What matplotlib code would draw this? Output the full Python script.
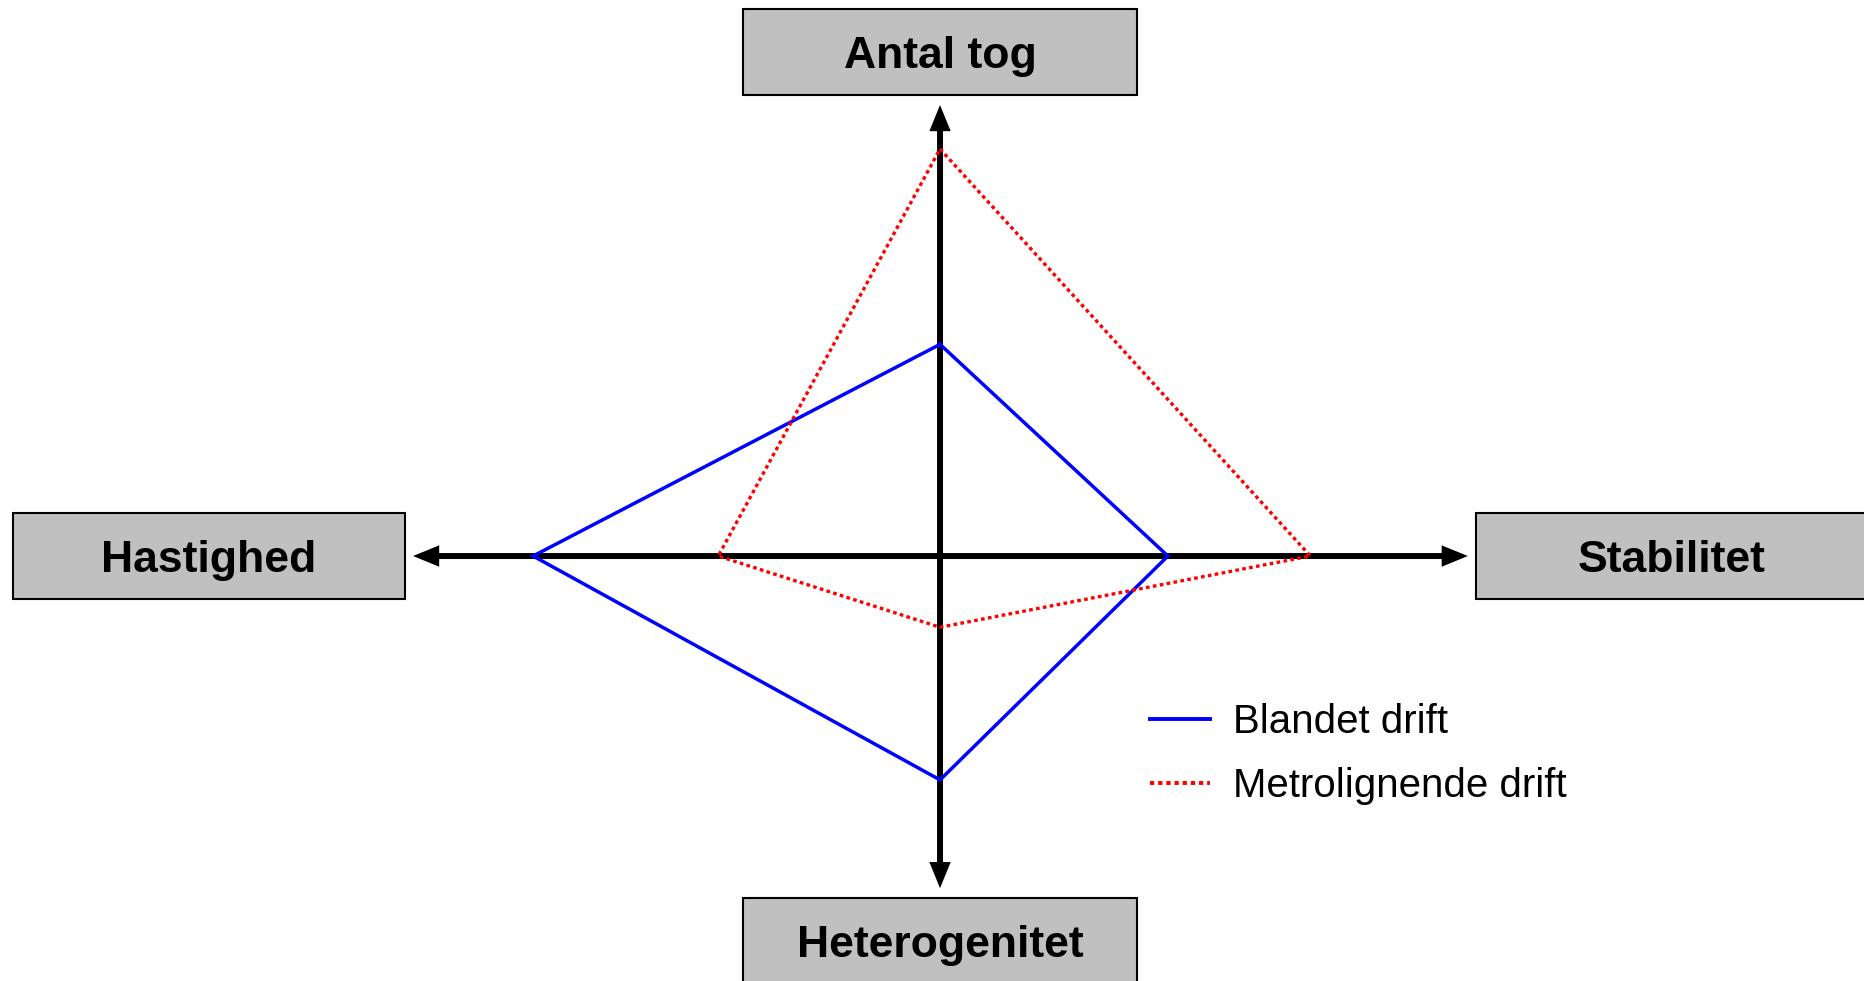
import matplotlib
matplotlib.use("Agg")
import matplotlib.pyplot as plt
from matplotlib.patches import Rectangle
from matplotlib.lines import Line2D

plt.rcParams['font.family'] = ['Liberation Sans', 'DejaVu Sans']

# Axes order: top, right, bottom, left
axis_names = ['Antal tog', 'Stabilitet', 'Heterogenitet', 'Hastighed']
directions = [(0, 1), (1, 0), (0, -1), (-1, 0)]

# values (same arbitrary scale on all four axes)
blandet = [5.2, 5.6, 5.5, 10.0]
metro = [10.0, 9.1, 1.75, 5.45]
series_names = ['Blandet drift', 'Metrolignende drift']

# arrow lengths of the axes
arrow_len = [11.08, 12.97, 8.16, 12.95]

fig = plt.figure(figsize=(18.65, 9.81), dpi=100)
ax = fig.add_axes([0, 0, 1, 1])
ax.set_xlim(-23.1, 22.73)
ax.set_ylim(-10.44, 13.66)
ax.axis('off')

# axes with arrows
for (dx, dy), L in zip(directions, arrow_len):
    ax.annotate('', xy=(dx * L, dy * L), xytext=(0, 0),
                arrowprops=dict(arrowstyle='-|>,head_length=1.1,head_width=0.45',
                                lw=4.3, color='black', shrinkA=0, shrinkB=0,
                                joinstyle='miter', capstyle='butt'))


def polygon(vals):
    xs = [d[0] * v for d, v in zip(directions, vals)]
    ys = [d[1] * v for d, v in zip(directions, vals)]
    return xs + xs[:1], ys + ys[:1]


bx, by = polygon(blandet)
ax.plot(bx, by, color='#0000FF', lw=2.5, solid_joinstyle='miter', zorder=3)
mx, my = polygon(metro)
ax.plot(mx, my, color='#FF0000', lw=2.4, linestyle=(0, (1.1, 1.0)), zorder=3)

# label boxes (left, top, width, height)
boxes = [(-4.84, 13.44, 9.68, 2.11), (13.17, 1.055, 9.63, 2.11),
         (-4.84, -8.40, 9.68, 2.11), (-22.78, 1.055, 9.63, 2.11)]
for name, (x0, top, w, h) in zip(axis_names, boxes):
    ax.add_patch(Rectangle((x0, top - h), w, h, facecolor='#C0C0C0',
                           edgecolor='black', lw=1.5, zorder=4))
    # baseline sits about 1.45 units below the box top
    ax.text(x0 + w / 2, top - 1.45, name, ha='center', va='baseline',
            fontsize=32, fontweight='bold', zorder=5)

# legend
handles = [Line2D([], [], color='#0000FF', lw=2.8),
           Line2D([], [], color='#FF0000', lw=2.8, linestyle=(0, (1.1, 1.0)))]
fig.legend(handles, series_names, loc='center left',
           bbox_to_anchor=(0.6165, 0.2315), frameon=False, fontsize=29,
           handlelength=1.5, handletextpad=0.56, labelspacing=0.65,
           borderpad=0, borderaxespad=0)

fig.savefig('out.png', dpi=100)
